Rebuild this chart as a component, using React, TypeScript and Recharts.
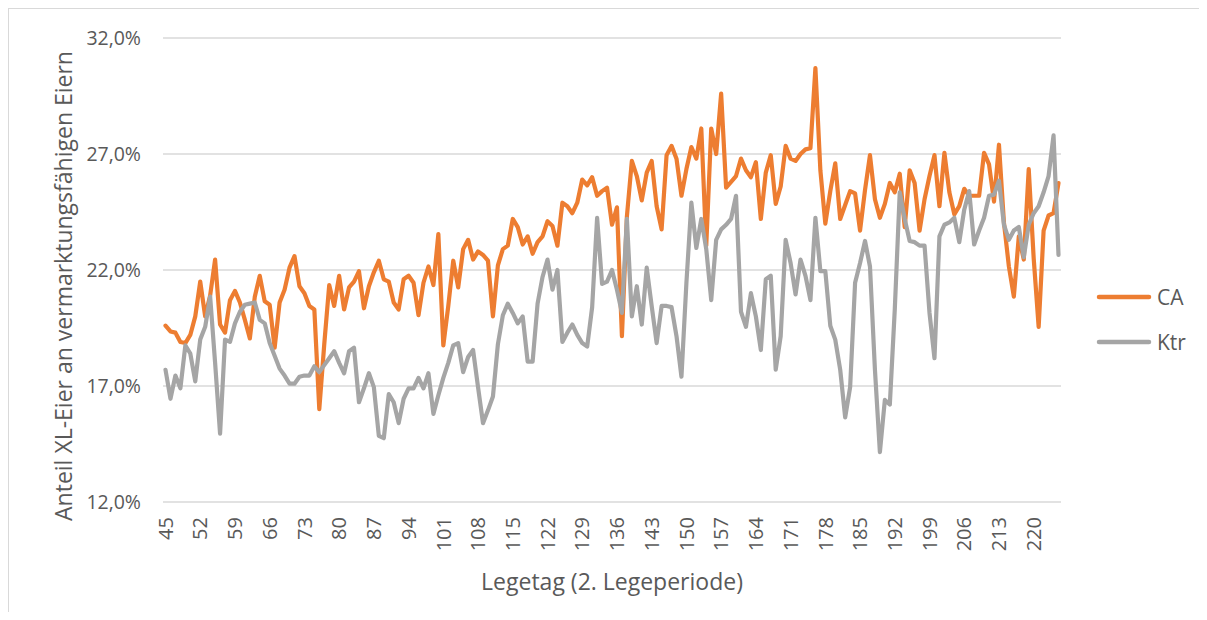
import { CartesianGrid, Label, Legend, Line, LineChart, XAxis, YAxis } from 'recharts';

// Anteil XL-Eier (%) je Legetag, Legetag 45 bis 225
const FIRST_DAY = 45;

const CA = [
  19.6, 19.35, 19.3, 18.9, 18.85, 19.2, 20.0, 21.5, 20.0, 20.9,
  22.45, 19.65, 19.3, 20.7, 21.1, 20.6, 19.85, 19.05, 20.85, 21.75,
  20.65, 20.5, 18.65, 20.6, 21.15, 22.1, 22.6, 21.3, 21.0, 20.45,
  20.3, 16.0, 18.8, 21.35, 20.45, 21.75, 20.3, 21.25, 21.5, 21.95,
  20.35, 21.3, 21.9, 22.4, 21.6, 21.5, 20.6, 20.3, 21.6, 21.75,
  21.45, 20.05, 21.45, 22.15, 21.35, 23.55, 18.75, 20.45, 22.4, 21.25,
  22.9, 23.3, 22.45, 22.8, 22.65, 22.4, 20.0, 22.2, 22.9, 23.05,
  24.2, 23.85, 23.1, 23.45, 22.7, 23.2, 23.45, 24.1, 23.9, 23.05,
  24.9, 24.75, 24.45, 24.9, 25.9, 25.65, 26.0, 25.2, 25.4, 25.55,
  23.95, 24.7, 19.15, 24.3, 26.7, 26.05, 25.0, 26.2, 26.7, 24.75,
  23.75, 26.95, 27.35, 26.8, 25.2, 26.35, 27.3, 26.8, 28.1, 23.05,
  28.1, 27.0, 29.6, 25.55, 25.8, 26.05, 26.8, 26.3, 26.0, 26.65,
  24.2, 26.2, 26.95, 24.85, 25.6, 27.35, 26.8, 26.7, 27.0, 27.2,
  27.25, 30.7, 26.3, 24.0, 25.4, 26.6, 24.2, 24.8, 25.4, 25.3,
  23.7, 25.45, 26.95, 25.05, 24.25, 24.85, 25.75, 25.35, 26.15, 23.85,
  26.3, 25.75, 23.7, 25.05, 26.05, 26.95, 24.75, 27.05, 25.35, 24.4,
  24.75, 25.5, 25.2, 25.2, 25.2, 27.05, 26.55, 24.95, 27.4, 24.05,
  22.15, 20.85, 23.45, 22.45, 26.35, 22.5, 19.55, 23.7, 24.35, 24.45,
  25.75,
];

const KTR = [
  17.7, 16.45, 17.45, 16.9, 18.75, 18.4, 17.2, 19.0, 19.55, 20.85,
  18.0, 14.95, 19.0, 18.9, 19.7, 20.2, 20.5, 20.55, 20.6, 19.85,
  19.7, 18.85, 18.3, 17.75, 17.45, 17.1, 17.1, 17.4, 17.45, 17.45,
  17.85, 17.6, 17.9, 18.2, 18.5, 18.0, 17.55, 18.5, 18.65, 16.3,
  16.9, 17.55, 16.95, 14.85, 14.75, 16.65, 16.3, 15.4, 16.45, 16.9,
  16.9, 17.35, 16.9, 17.55, 15.8, 16.6, 17.35, 18.0, 18.75, 18.85,
  17.6, 18.25, 18.55, 16.95, 15.4, 15.95, 16.55, 18.8, 20.05, 20.55,
  20.15, 19.7, 20.0, 18.05, 18.05, 20.55, 21.7, 22.45, 21.15, 22.0,
  18.9, 19.3, 19.65, 19.2, 18.85, 18.7, 20.4, 24.25, 21.4, 21.5,
  22.0, 21.15, 20.15, 24.2, 20.0, 21.3, 19.65, 22.1, 20.45, 18.85,
  20.45, 20.45, 20.4, 19.15, 17.4, 21.45, 24.9, 22.95, 24.2, 22.9,
  20.7, 23.3, 23.75, 23.95, 24.2, 25.2, 20.2, 19.55, 21.0, 20.0,
  18.55, 21.6, 21.75, 17.7, 19.15, 23.3, 22.3, 20.95, 22.45, 21.75,
  20.7, 24.25, 21.95, 21.95, 19.6, 19.0, 17.7, 15.65, 16.95, 21.45,
  22.3, 23.25, 22.15, 17.7, 14.15, 16.4, 16.2, 20.3, 25.35, 24.2,
  23.25, 23.2, 23.05, 23.05, 20.15, 18.2, 23.45, 23.95, 24.05, 24.25,
  23.2, 24.6, 25.4, 23.1, 23.7, 24.25, 25.2, 25.25, 25.85, 23.95,
  23.3, 23.7, 23.85, 22.55, 23.95, 24.45, 24.75, 25.35, 26.05, 27.8,
  22.65,
];

const Y_TICKS = [12, 17, 22, 27, 32];

const SERIES = [
  { key: 'ca', name: 'CA', color: '#ED7D31' },
  { key: 'ktr', name: 'Ktr', color: '#A5A5A5' },
];

const data = CA.map((v, i) => ({ day: FIRST_DAY + i, ca: v, ktr: KTR[i] }));

const FONT = '"Open Sans", sans-serif';
const TEXT = '#595959';
const W = 1192;
const H = 604;

const pct = (v: number) => `${v.toFixed(1).replace('.', ',')}%`;

function DayTick({ x, y, payload }: any) {
  const ty = y + 15;
  return (
    <text
      x={x}
      y={ty}
      dy="0.36em"
      textAnchor="end"
      transform={`rotate(-90, ${x}, ${ty})`}
      fill={TEXT}
      fontSize={20}
      fontFamily={FONT}
    >
      {payload.value}
    </text>
  );
}

function LegendBox() {
  return (
    <div style={{ fontFamily: FONT, fontSize: 21, color: TEXT }}>
      {SERIES.map((s) => (
        <div key={s.key} style={{ display: 'flex', alignItems: 'center', height: 45 }}>
          <svg width={56} height={10} style={{ marginRight: 5 }}>
            <line x1={3} y1={5} x2={53} y2={5} stroke={s.color} strokeWidth={4.5} strokeLinecap="round" />
          </svg>
          <span>{s.name}</span>
        </div>
      ))}
    </div>
  );
}

export default function App() {
  return (
    <div style={{ position: 'relative', width: W, height: H }}>
      <LineChart
        width={W}
        height={H}
        data={data}
        margin={{ top: 30, right: 139, bottom: 0, left: 0 }}
      >
        <CartesianGrid vertical={false} stroke="#D9D9D9" strokeWidth={1.3} />
        <XAxis
          dataKey="day"
          interval={6}
          axisLine={false}
          tickLine={false}
          tickSize={0}
          tickMargin={0}
          height={110}
          padding={{ left: 2.5, right: 2.5 }}
          tick={<DayTick />}
        >
          <Label
            value="Legetag (2. Legeperiode)"
            position="insideBottom"
            offset={22}
            fill={TEXT}
            fontSize={23}
            fontFamily={FONT}
          />
        </XAxis>
        <YAxis
          type="number"
          domain={[12, 32]}
          ticks={Y_TICKS}
          tickFormatter={pct}
          axisLine={false}
          tickLine={false}
          tickSize={0}
          tickMargin={22}
          width={155}
          tick={{ fill: TEXT, fontSize: 19.5, fontFamily: FONT }}
        >
          <Label
            content={() => (
              <text
                x={56}
                y={278}
                dy="0.36em"
                textAnchor="middle"
                transform="rotate(-90, 56, 278)"
                fill={TEXT}
                fontSize={23}
                fontFamily={FONT}
              >
                Anteil XL-Eier an vermarktungsfähigen Eiern
              </text>
            )}
          />
        </YAxis>
        <Legend
          layout="vertical"
          align="center"
          verticalAlign="middle"
          wrapperStyle={{ left: 1088, top: 266, width: 110 }}
          content={() => <LegendBox />}
        />
        {SERIES.map((s) => (
          <Line
            key={s.key}
            type="linear"
            dataKey={s.key}
            name={s.name}
            stroke={s.color}
            strokeWidth={4.2}
            strokeLinejoin="round"
            strokeLinecap="round"
            dot={false}
            activeDot={false}
            isAnimationActive={false}
          />
        ))}
      </LineChart>
      <div
        style={{
          position: 'absolute',
          left: 0,
          top: 0,
          width: W,
          height: H,
          boxSizing: 'border-box',
          border: '1px solid #D9D9D9',
          borderBottom: 'none',
          pointerEvents: 'none',
        }}
      />
    </div>
  );
}
